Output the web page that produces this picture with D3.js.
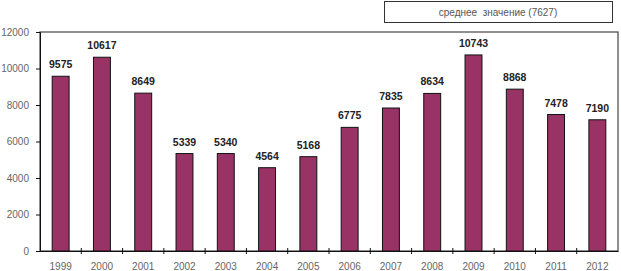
<!DOCTYPE html>
<html lang="ru">
<head>
  <meta charset="UTF-8">
  <title>Chart</title>
  <script src="https://d3js.org/d3.v7.min.js"></script>
  <style>
    body { margin: 0; background: #fff; font-family: Arial, 'Liberation Sans', sans-serif; }
    .axis text { font-size: 10px; fill: #666; font-family: Arial, 'Liberation Sans', sans-serif; }
    .value { font-size: 10.5px; font-weight: bold; fill: #222; text-anchor: middle; }
  </style>
</head>
<body>
  <div id="chart"></div>
  <script>
    const years = ["1999","2000","2001","2002","2003","2004","2005","2006","2007","2008","2009","2010","2011","2012"];
    const values = [9575, 10617, 8649, 5339, 5340, 4564, 5168, 6775, 7835, 8634, 10743, 8868, 7478, 7190];
    const yTicks = [0, 2000, 4000, 6000, 8000, 10000, 12000];
    const legendText = "среднее  значение (7627)";

    const W = 621, H = 271;
    const margin = { top: 32, right: 3, bottom: 20, left: 40 };
    const w = W - margin.left - margin.right;
    const h = H - margin.top - margin.bottom;

    const svg = d3.select("#chart").append("svg")
      .attr("width", W).attr("height", H);

    const g = svg.append("g").attr("transform", `translate(${margin.left},${margin.top})`);

    const x = d3.scaleBand().domain(years).range([0, w]).paddingInner(0.59).paddingOuter(0.295);
    const y = d3.scaleLinear().domain([0, 12000]).range([h, 0]);

    // plot frame
    g.append("rect")
      .attr("x", 0).attr("y", 0).attr("width", w).attr("height", h)
      .attr("fill", "none").attr("stroke", "#444").attr("stroke-width", 1.2);

    // bars
    g.selectAll(".bar").data(values).enter().append("rect")
      .attr("class", "bar")
      .attr("x", (d, i) => x(years[i]))
      .attr("y", d => y(d))
      .attr("width", x.bandwidth())
      .attr("height", d => h - y(d))
      .attr("fill", "#993366")
      .attr("stroke", "#111").attr("stroke-width", 1);

    // value labels
    g.selectAll(".value").data(values).enter().append("text")
      .attr("class", "value")
      .attr("x", (d, i) => x(years[i]) + x.bandwidth() / 2)
      .attr("y", d => y(d) - 8)
      .text(d => d);

    // y axis
    const yAxis = g.append("g").attr("class", "axis")
      .call(d3.axisLeft(y).tickValues(yTicks).tickFormat(d3.format("d")).tickSize(4).tickPadding(7));
    yAxis.select(".domain").attr("stroke", "#111");
    yAxis.selectAll(".tick line").attr("stroke", "#111");

    // x axis
    const step = x.step();
    const xAxis = g.append("g").attr("class", "axis")
      .attr("transform", `translate(0,${h})`)
      .call(d3.axisBottom(x).tickSize(0).tickPadding(12));
    xAxis.select(".domain").attr("stroke", "#111");
    g.selectAll(".xtick").data(years.slice(1)).enter().append("line")
      .attr("class", "xtick")
      .attr("x1", (d, i) => (i + 1) * step).attr("x2", (d, i) => (i + 1) * step)
      .attr("y1", h - 3).attr("y2", h + 3)
      .attr("stroke", "#111");

    // legend box
    svg.append("rect")
      .attr("x", 384.5).attr("y", 1.5).attr("width", 228).attr("height", 21)
      .attr("fill", "#fff").attr("stroke", "#333").attr("stroke-width", 1);
    svg.append("text")
      .attr("x", 498).attr("y", 16)
      .attr("text-anchor", "middle")
      .attr("font-size", 10).attr("fill", "#555")
      .style("white-space", "pre")
      .text(legendText);
  </script>
</body>
</html>
